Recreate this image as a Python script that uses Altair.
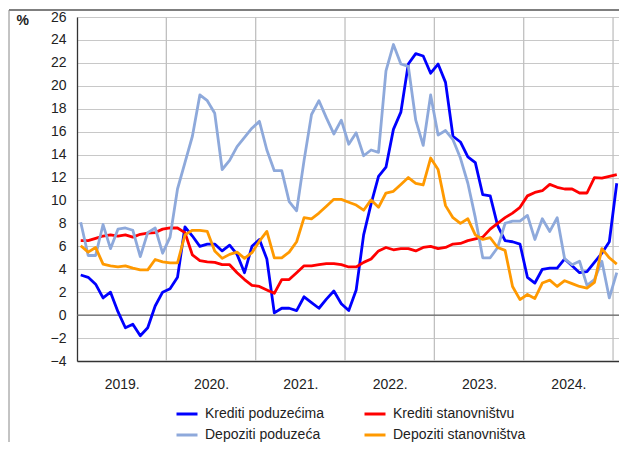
import altair as alt
import pandas as pd

# Monthly data, Jan 2019 .. Jan 2025 (index 0..72)
krediti_poduzecima = [3.5, 3.3, 2.7, 1.5, 2.0, 0.3, -1.1, -0.8, -1.8, -1.1, 0.8, 2.0,
                      2.3, 3.3, 7.7, 6.9, 6.0, 6.2, 6.2, 5.6, 6.1, 5.3, 3.7, 6.0,
                      6.6, 4.9, 0.2, 0.6, 0.6, 0.4, 1.6, 1.1, 0.6, 1.4, 2.1, 1.0,
                      0.4, 2.2, 7.0, 9.7, 12.1, 12.9, 16.2, 17.7, 21.9, 22.8, 22.6, 21.1,
                      21.9, 20.3, 15.6, 15.1, 13.8, 13.3, 10.5, 10.4, 7.8, 6.5, 6.4, 6.2,
                      3.3, 2.8, 4.0, 4.1, 4.1, 4.9, 4.3, 3.7, 3.8, 4.6, 5.4, 6.4,
                      11.5]
krediti_stanovnistvu = [6.5, 6.5, 6.7, 6.9, 7.0, 6.9, 7.0, 6.8, 7.05, 7.15, 7.2, 7.5,
                        7.6, 7.6, 7.2, 5.25, 4.75, 4.65, 4.6, 4.4, 4.4, 3.7, 3.1, 2.6,
                        2.5, 2.2, 1.9, 3.1, 3.1, 3.7, 4.3, 4.3, 4.4, 4.5, 4.5, 4.4,
                        4.2, 4.2, 4.6, 4.9, 5.6, 5.9, 5.7, 5.8, 5.8, 5.6, 5.9, 6.0,
                        5.8, 5.9, 6.2, 6.25, 6.5, 6.65, 6.8, 7.5, 8.0, 8.5, 8.9, 9.4,
                        10.4, 10.7, 10.85, 11.4, 11.15, 11.0, 11.0, 10.65, 10.65, 12.0, 11.95, 12.1,
                        12.25]
depoziti_poduzeca = [8.1, 5.2, 5.2, 7.9, 5.8, 7.5, 7.6, 7.4, 5.1, 7.2, 7.6, 5.4,
                     6.8, 11.0, 13.3, 15.6, 19.2, 18.7, 17.6, 12.7, 13.5, 14.7, 15.5, 16.3,
                     16.9, 14.4, 12.6, 12.6, 9.9, 9.1, 13.5, 17.5, 18.7, 17.2, 15.8, 17.0,
                     14.9, 15.9, 13.9, 14.4, 14.2, 21.3, 23.6, 21.9, 21.7, 17.0, 14.8, 19.2,
                     15.7, 16.1, 15.3, 13.7, 11.5, 8.5, 5.0, 5.0, 5.9, 8.0, 8.2, 8.2,
                     8.7, 6.6, 8.4, 7.3, 8.5, 4.9, 4.4, 4.7, 2.6, 3.1, 4.7, 1.5,
                     3.7]
depoziti_stanovnistva = [6.05, 5.5, 5.9, 4.45, 4.3, 4.2, 4.3, 4.1, 3.95, 3.95, 4.85, 4.65,
                         4.55, 4.55, 7.0, 7.4, 7.4, 7.3, 5.6, 4.95, 5.3, 5.5, 4.95, 5.45,
                         6.45, 7.3, 5.0, 5.0, 5.5, 6.4, 8.5, 8.4, 8.9, 9.5, 10.1, 10.1,
                         9.85, 9.6, 9.15, 10.05, 9.4, 10.65, 10.8, 11.4, 12.0, 11.5, 11.35, 13.7,
                         12.7, 9.55, 8.5, 8.0, 8.4, 7.0, 6.6, 6.75, 5.9, 5.65, 2.5, 1.35,
                         1.8, 1.45, 2.8, 3.05, 2.5, 3.0, 2.75, 2.5, 2.35, 2.85, 5.8, 5.0,
                         4.45]

series_names = ["Krediti poduzećima", "Krediti stanovništvu",
                "Depoziti poduzeća", "Depoziti stanovništva"]
series_colors = ["#0000FF", "#FF0000", "#8EA9DB", "#FF9900"]
# legend is filled column by column: column 1 = Krediti/Depoziti poduzeća
legend_order = [0, 2, 1, 3]
year_labels = ["2019.", "2020.", "2021.", "2022.", "2023.", "2024."]
year_centres = [6, 18, 30, 42, 54, 66]
year_bounds = [12, 24, 36, 48, 60, 72]
y_ticks = list(range(-4, 27, 2))

FONT = "Liberation Sans, Arial, Helvetica, sans-serif"

rows = []
for name, vals in zip(series_names,
                      [krediti_poduzecima, krediti_stanovnistvu,
                       depoziti_poduzeca, depoziti_stanovnistva]):
    for i, v in enumerate(vals):
        rows.append({"m": i + 0.5, "v": v, "s": name})
df = pd.DataFrame(rows)

label_expr = "[" + ",".join("'%s'" % l for l in year_labels) + "][floor(datum.value / 12)]"

x_scale = alt.Scale(domain=[0, 72.8], nice=False, zero=False)
y_scale = alt.Scale(domain=[-4, 26], nice=False, zero=False)

x_axis = alt.Axis(values=year_centres, labelExpr=label_expr, grid=False,
                  ticks=False, domain=True, domainColor="#333333",
                  domainWidth=1.3, labelPadding=16, labelFontSize=14,
                  labelFont=FONT, labelColor="#222222", title=None)
y_axis = alt.Axis(values=y_ticks, tickSize=0, labelPadding=11,
                  labelOverlap=False,
                  labelFontSize=14, labelFont=FONT, labelColor="#222222",
                  gridColor="#c8c8c8", gridWidth=1.2,
                  domainColor="#333333", domainWidth=1.3,
                  title="%", titleAngle=0, titleX=-61, titleY=3,
                  titleAlign="left", titleBaseline="middle",
                  titleFont=FONT, titleFontSize=14, titleFontWeight="bold",
                  titleColor="#222222")

lines = alt.Chart(df).mark_line(strokeWidth=2.8, strokeJoin="round").encode(
    x=alt.X("m:Q", scale=x_scale, axis=x_axis),
    y=alt.Y("v:Q", scale=y_scale, axis=y_axis),
    color=alt.Color("s:N",
                    scale=alt.Scale(domain=[series_names[k] for k in legend_order],
                                    range=[series_colors[k] for k in legend_order]),
                    legend=alt.Legend(title=None, orient="none", legendX=98, legendY=385,
                                      columns=2, columnPadding=33, rowPadding=2,
                                      symbolType="stroke", symbolSize=441,
                                      symbolStrokeWidth=3, labelOffset=6,
                                      labelFontSize=14, labelFont=FONT,
                                      labelColor="#222222", padding=0)),
)

vgrid = alt.Chart(pd.DataFrame({"m": year_bounds})).mark_rule(
    color="#c0c0c0", strokeWidth=1.3).encode(x=alt.X("m:Q", scale=x_scale, axis=x_axis))

zero = alt.Chart(pd.DataFrame({"v": [0]})).mark_rule(
    color="#666666", strokeWidth=1.3).encode(y=alt.Y("v:Q", scale=y_scale, axis=y_axis))

frame_top = alt.Chart(pd.DataFrame({"a": [0]})).mark_rule(
    color="#555555", strokeWidth=1.5).encode(
    x=alt.value(-68), x2=alt.value(560), y=alt.value(-7))
frame_left = alt.Chart(pd.DataFrame({"a": [0]})).mark_rule(
    color="#888888", strokeWidth=1).encode(
    x=alt.value(-68), y=alt.value(-7), y2=alt.value(440))

chart = alt.layer(vgrid, zero, lines, frame_top, frame_left).properties(
    width=542, height=344,
    padding={"left": 69, "top": 9, "right": 0, "bottom": 81},
    autosize=alt.AutoSizeParams(type="none"),
).configure_view(stroke="#333333", strokeWidth=1.3).configure(
    font=FONT, background="white")

chart.save("out.html", embed_options={"renderer": "svg", "actions": False})
